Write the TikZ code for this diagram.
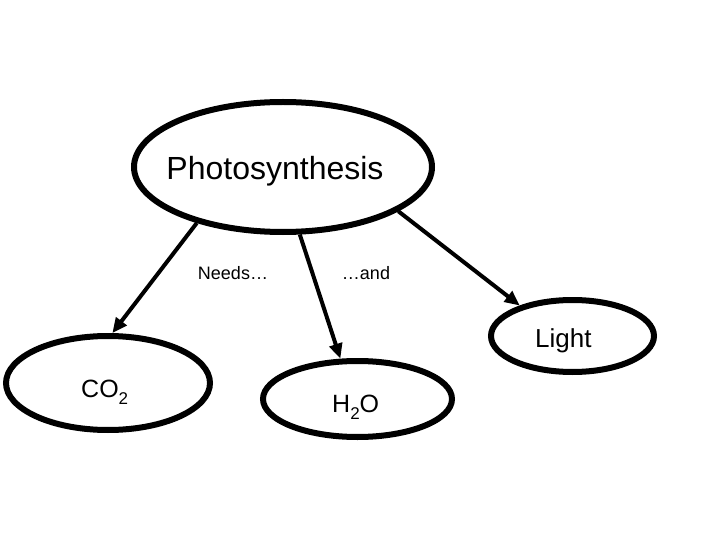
\documentclass[tikz,border=0pt]{standalone}
\usepackage{fontspec}
\setmainfont{Liberation Sans}
\usetikzlibrary{shapes.geometric,arrows.meta}
\newcommand{\lowsub}[1]{\raisebox{-7pt}{\fontsize{17}{20}\selectfont #1}}
\begin{document}
\begin{tikzpicture}[x=1pt,y=-1pt,
  bubble/.style={draw=black,line width=6pt,ellipse,inner sep=0pt,fill=white},
  conn/.style={draw=black,line width=4pt,-{Triangle[length=15pt,width=13pt]}},
  lbl/.style={inner sep=0pt,anchor=base}]
\useasboundingbox[fill=white] (0,0) rectangle (720,540);
\node[bubble,minimum width=298pt,minimum height=130pt] (ps) at (283,167) {};
\node[bubble,minimum width=204pt,minimum height=94pt] (co2) at (108,383) {};
\node[bubble,minimum width=189pt,minimum height=76pt] (h2o) at (357.5,399) {};
\node[bubble,minimum width=163pt,minimum height=72pt] (light) at (572.5,336) {};
\node[lbl,font=\fontsize{32}{36}\selectfont] (pst) at (275,180) {Photosynthesis};
\node[lbl,anchor=base west,font=\fontsize{25}{30}\selectfont] (co2t) at (81,397) {CO\lowsub{2}};
\node[lbl,anchor=base west,font=\fontsize{25}{30}\selectfont] (h2ot) at (332,412) {H\lowsub{2}O};
\node[lbl,anchor=base west,font=\fontsize{26}{30}\selectfont] (lightt) at (535,347) {Light};
\node[lbl,font=\fontsize{18}{22}\selectfont] (needs) at (233,279) {Needs…};
\node[lbl,font=\fontsize{18}{22}\selectfont] (andt) at (366,279) {…and};
\draw[conn] (ps.213) -- (co2.85);
\draw[conn] (ps.-76) -- (h2o.113);
\draw[conn] (ps.-21) -- (light.150);
\end{tikzpicture}
\end{document}
